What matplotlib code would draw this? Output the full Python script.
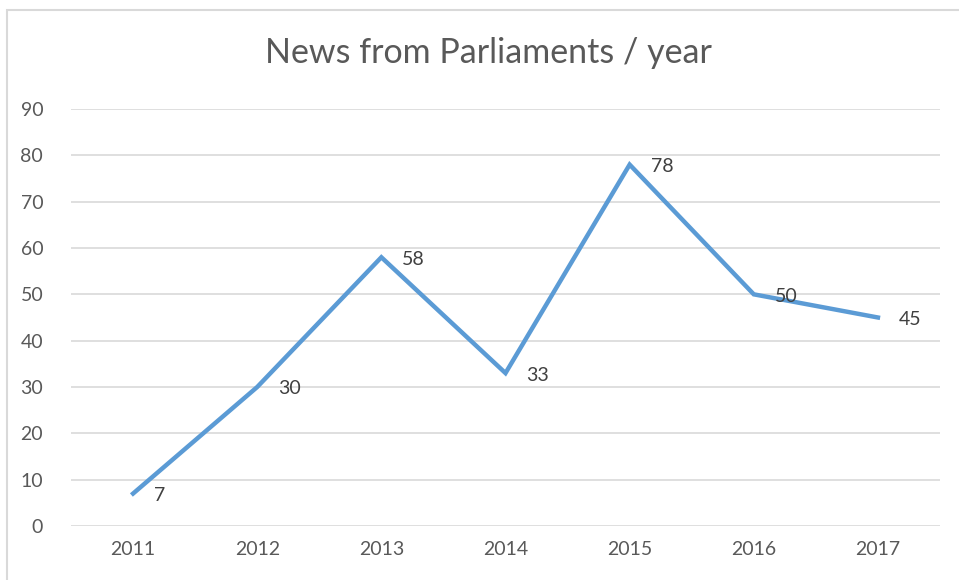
import matplotlib.pyplot as plt
from matplotlib.patches import Rectangle

# ── Data ──────────────────────────────────────────────────────────────────────

years = ["2011", "2012", "2013", "2014", "2015", "2016", "2017"]
news = [7, 30, 58, 33, 78, 50, 45]
y_ticks = list(range(0, 100, 10))

# ── Style ─────────────────────────────────────────────────────────────────────

plt.rcParams["font.family"] = ["Lato", "DejaVu Sans"]
TEXT = "#595959"
GRID = "#D9D9D9"
LINE = "#5B9BD5"

fig = plt.figure(figsize=(9.59, 5.80), dpi=100)
ax = fig.add_axes([71 / 959, 1 - 526 / 580, (940 - 71) / 959, (526 - 109) / 580])

x = list(range(len(years)))
ax.plot(x, news, color=LINE, linewidth=3.2, solid_joinstyle="miter")

for xi, v in zip(x, news):
    ax.annotate(str(v), (xi, v), xytext=(21, -2), textcoords="offset pixels",
                ha="left", va="center", fontsize=14, color="#404040")

ax.set_xlim(-0.5, len(years) - 0.5)
ax.set_ylim(0, 90)
ax.set_xticks(x)
ax.set_xticklabels(years)
ax.set_yticks(y_ticks)
ax.tick_params(length=0, labelsize=14, labelcolor=TEXT, pad=11)
ax.tick_params(axis="y", pad=20)
ax.grid(axis="y", color=GRID, linewidth=1.2)
ax.set_axisbelow(True)
for s in ax.spines.values():
    s.set_visible(False)

fig.text(488 / 959, 1 - 53 / 580, "News from Parliaments / year",
         ha="center", va="center", fontsize=24.5, color=TEXT)

# outer chart border
fig.patches.append(Rectangle((7 / 959, -0.01), 1.0, 1 - 10 / 580 + 0.01,
                             transform=fig.transFigure, fill=False,
                             edgecolor=GRID, linewidth=1.5))

fig.savefig("out.png", dpi=100)
